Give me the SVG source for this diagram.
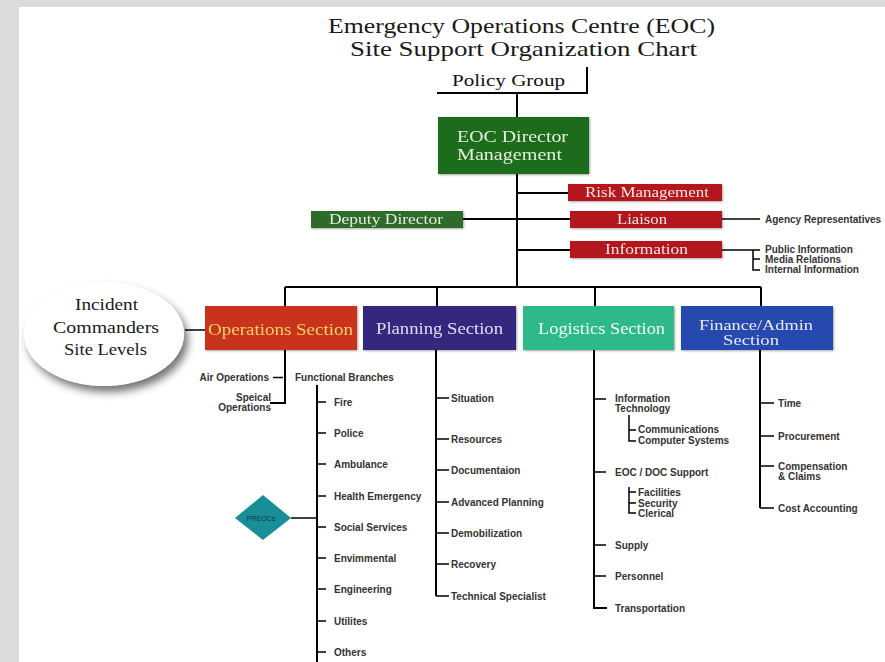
<svg xmlns="http://www.w3.org/2000/svg" width="885" height="662" viewBox="0 0 885 662">
<style>
.ser{font-family:"Liberation Serif","Times New Roman",serif;}
.ttl{font-size:22px;fill:#1a1a1a;text-anchor:middle;}
.bx{font-size:16px;text-anchor:middle;}
.sm{font-size:14px;text-anchor:middle;}
.it{font-family:"Liberation Sans",Arial,sans-serif;font-size:10px;font-weight:bold;fill:#333333;}
.r{text-anchor:end;}
.ln{stroke:#000;stroke-width:2;fill:none;}
.tk{stroke:#000;stroke-width:1.5;fill:none;}
</style>
<defs>
<filter id="sh" x="-30%" y="-30%" width="160%" height="160%">
<feGaussianBlur in="SourceAlpha" stdDeviation="4"/>
<feOffset dx="4" dy="6" result="b"/>
<feComponentTransfer><feFuncA type="linear" slope="0.55"/></feComponentTransfer>
<feMerge><feMergeNode/><feMergeNode in="SourceGraphic"/></feMerge>
</filter>
<filter id="bs" x="-10%" y="-20%" width="120%" height="140%">
<feGaussianBlur in="SourceAlpha" stdDeviation="1"/>
<feOffset dx="1" dy="1"/>
<feComponentTransfer><feFuncA type="linear" slope="0.35"/></feComponentTransfer>
<feMerge><feMergeNode/><feMergeNode in="SourceGraphic"/></feMerge>
</filter>
</defs>
<rect x="0" y="0" width="885" height="662" fill="#dcdcdc"/>
<rect x="19" y="7" width="866" height="655" fill="#ffffff"/>

<g id="title">
<text class="ser ttl" x="521.5" y="33" textLength="387" lengthAdjust="spacingAndGlyphs">Emergency Operations Centre (EOC)</text>
<text class="ser ttl" x="523.5" y="56" textLength="347" lengthAdjust="spacingAndGlyphs">Site Support Organization Chart</text>
</g>

<g id="connectors">
<path class="ln" d="M587 67 V93 H437"/>
<path class="ln" d="M517 93 V117"/>
<path class="ln" d="M517 174 V287"/>
<path class="ln" d="M463 219 H517"/>
<path class="ln" d="M517 193 H568"/>
<path class="ln" d="M517 219 H570"/>
<path class="ln" d="M517 250 H570"/>
<path class="tk" d="M722 219 H760"/>
<path class="tk" d="M722 250 H753 M753 250 V270 H760 M753 250 H760 M753 259 H760"/>
<path class="ln" d="M285 287 H761"/>
<path class="ln" d="M285 287 V306 M437 287 V306 M595 287 V306 M761 287 V306"/>
<path class="tk" d="M185 330 H205"/>
<path class="ln" d="M285 350 V403 H270"/>
<path class="tk" d="M273 377.5 H283"/>
<path class="ln" d="M317 385 V662"/>
<path class="tk" d="M317 402 H326 M317 433 H326 M317 464 H326 M317 496 H326 M317 527 H326 M317 558 H326 M317 589 H326 M317 621 H326 M317 652 H326"/>
<path class="tk" d="M291 518 H317"/>
<path class="ln" d="M436 350 V596"/>
<path class="tk" d="M436 398 H449 M436 439 H449 M436 470 H449 M436 502 H449 M436 533 H449 M436 564 H449 M436 596 H449"/>
<path class="ln" d="M594 350 V608 H607"/>
<path class="tk" d="M594 399 H606 M594 472 H606 M594 545 H606 M594 576 H606"/>
<path class="tk" d="M629 415 V441 H636 M629 430 H636"/>
<path class="tk" d="M629 487 V513 H636 M629 492 H636 M629 503 H636"/>
<path class="ln" d="M760 350 V508"/>
<path class="tk" d="M760 403 H774 M760 436 H774 M760 466 H774 M760 508 H774"/>
</g>

<g id="policy-group">
<text class="ser" x="508.5" y="86" font-size="16" text-anchor="middle" fill="#111" textLength="113" lengthAdjust="spacingAndGlyphs">Policy Group</text>
</g>

<g id="eoc-director" filter="url(#bs)">
<rect x="438" y="117" width="151" height="57" fill="#1f6c1f"/>
<text class="ser" x="512.5" y="142" font-size="17" text-anchor="middle" fill="#e4eedc" textLength="111" lengthAdjust="spacingAndGlyphs">EOC Director</text>
<text class="ser" x="509.5" y="160" font-size="17" text-anchor="middle" fill="#e4eedc" textLength="105" lengthAdjust="spacingAndGlyphs">Management</text>
</g>

<g id="deputy-director" filter="url(#bs)">
<rect x="311" y="211" width="152" height="17" fill="#2d6b2a"/>
<text class="ser sm" x="386" y="223.5" fill="#e4eedc" textLength="114" lengthAdjust="spacingAndGlyphs">Deputy Director</text>
</g>

<g id="risk-management" filter="url(#bs)">
<rect x="568" y="184" width="154" height="17" fill="#b3121b"/>
<text class="ser sm" x="647" y="197" fill="#f6ebe4" textLength="124" lengthAdjust="spacingAndGlyphs">Risk Management</text>
</g>

<g id="liaison" filter="url(#bs)">
<rect x="570" y="211" width="152" height="17" fill="#b3121b"/>
<text class="ser sm" x="642" y="224" fill="#f6ebe4" textLength="50" lengthAdjust="spacingAndGlyphs">Liaison</text>
</g>
<g id="agency-representatives">
<text class="it" x="765" y="223">Agency Representatives</text>
</g>

<g id="information" filter="url(#bs)">
<rect x="570" y="241" width="152" height="17" fill="#b3121b"/>
<text class="ser sm" x="646.5" y="254" fill="#f6ebe4" textLength="83" lengthAdjust="spacingAndGlyphs">Information</text>
</g>
<g id="information-items">
<text class="it" x="765" y="253" font-size="9">Public Information</text>
<text class="it" x="765" y="263" font-size="9">Media Relations</text>
<text class="it" x="765" y="273" font-size="9">Internal Information</text>
</g>

<g id="incident-commanders">
<ellipse cx="104" cy="334" rx="80" ry="52" fill="#ffffff" filter="url(#sh)"/>
<text class="ser" x="106.5" y="310" font-size="17" text-anchor="middle" fill="#1a1a1a" textLength="63" lengthAdjust="spacingAndGlyphs">Incident</text>
<text class="ser" x="106" y="333" font-size="17" text-anchor="middle" fill="#1a1a1a" textLength="106" lengthAdjust="spacingAndGlyphs">Commanders</text>
<text class="ser" x="105.5" y="355" font-size="17" text-anchor="middle" fill="#1a1a1a" textLength="83" lengthAdjust="spacingAndGlyphs">Site Levels</text>
</g>

<g id="operations-section" filter="url(#bs)">
<rect x="205" y="306" width="152" height="44" fill="#c9311a"/>
<text class="ser bx" x="280.5" y="335" fill="#f3d36b" textLength="145" lengthAdjust="spacingAndGlyphs">Operations Section</text>
</g>
<g id="planning-section" filter="url(#bs)">
<rect x="363" y="306" width="153" height="44" fill="#35287e"/>
<text class="ser bx" x="439.5" y="334" fill="#e2dcf2" textLength="127" lengthAdjust="spacingAndGlyphs">Planning Section</text>
</g>
<g id="logistics-section" filter="url(#bs)">
<rect x="523" y="306" width="151" height="44" fill="#2fb98a"/>
<text class="ser bx" x="601.5" y="334" fill="#f2fff8" textLength="127" lengthAdjust="spacingAndGlyphs">Logistics Section</text>
</g>
<g id="finance-admin-section" filter="url(#bs)">
<rect x="681" y="306" width="152" height="44" fill="#2849b0"/>
<text class="ser" x="756" y="330" font-size="15" text-anchor="middle" fill="#e8ecf8" textLength="114" lengthAdjust="spacingAndGlyphs">Finance/Admin</text>
<text class="ser" x="751" y="345" font-size="15" text-anchor="middle" fill="#e8ecf8" textLength="56" lengthAdjust="spacingAndGlyphs">Section</text>
</g>

<g id="operations-items">
<text class="it r" x="269" y="381">Air Operations</text>
<text class="it r" x="271" y="401">Speical</text>
<text class="it r" x="271" y="411">Operations</text>
<text class="it" x="295" y="381">Functional Branches</text>
<text class="it" x="334" y="405.5">Fire</text>
<text class="it" x="334" y="436.5">Police</text>
<text class="it" x="334" y="467.5">Ambulance</text>
<text class="it" x="334" y="499.5">Health Emergency</text>
<text class="it" x="334" y="530.5">Social Services</text>
<text class="it" x="334" y="561.5">Envimmental</text>
<text class="it" x="334" y="592.5">Engineering</text>
<text class="it" x="334" y="624.5">Utilites</text>
<text class="it" x="334" y="655.5">Others</text>
</g>

<g id="preocs">
<polygon points="263,495 291,518 263,540 235,518" fill="#188f98"/>
<text x="261" y="521" font-family="Liberation Sans,Arial,sans-serif" font-size="7" text-anchor="middle" fill="#0c3a44">PREOCs</text>
</g>

<g id="planning-items">
<text class="it" x="451" y="401.5">Situation</text>
<text class="it" x="451" y="442.5">Resources</text>
<text class="it" x="451" y="473.5">Documentaion</text>
<text class="it" x="451" y="505.5">Advanced Planning</text>
<text class="it" x="451" y="536.5">Demobilization</text>
<text class="it" x="451" y="567.5">Recovery</text>
<text class="it" x="451" y="599.5">Technical Specialist</text>
</g>

<g id="logistics-items">
<text class="it" x="615" y="402">Information</text>
<text class="it" x="615" y="412">Technology</text>
<text class="it" x="638" y="433">Communications</text>
<text class="it" x="638" y="444">Computer Systems</text>
<text class="it" x="615" y="475.5">EOC / DOC Support</text>
<text class="it" x="638" y="495.5">Facilities</text>
<text class="it" x="638" y="506.5">Security</text>
<text class="it" x="638" y="516.5">Clerical</text>
<text class="it" x="615" y="548.5">Supply</text>
<text class="it" x="615" y="579.5">Personnel</text>
<text class="it" x="615" y="611.5">Transportation</text>
</g>

<g id="finance-items">
<text class="it" x="778" y="406.5">Time</text>
<text class="it" x="778" y="439.5">Procurement</text>
<text class="it" x="778" y="469.5">Compensation</text>
<text class="it" x="778" y="479.5">&amp; Claims</text>
<text class="it" x="778" y="511.5">Cost Accounting</text>
</g>
</svg>
